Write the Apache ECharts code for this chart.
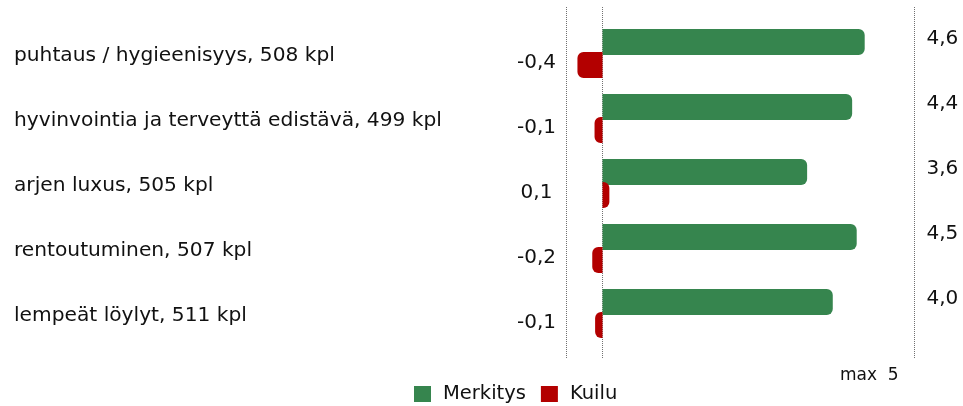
<!DOCTYPE html>
<html>
<head>
<meta charset="utf-8">
<script src="https://cdn.jsdelivr.net/npm/echarts@6/dist/echarts.min.js"></script>
<style>
  html, body { margin: 0; padding: 0; background: #fff; }
  #chart { width: 963px; height: 406px; }
</style>
</head>
<body>
<div id="chart"></div>
<script>
// data
const categories = [
  'puhtaus / hygieenisyys, 508 kpl',
  'hyvinvointia ja terveyttä edistävä, 499 kpl',
  'arjen luxus, 505 kpl',
  'rentoutuminen, 507 kpl',
  'lempeät löylyt, 511 kpl'
]
const merkitys = [4.6, 4.38, 3.59, 4.46, 4.04]
const kuilu = [-0.44, -0.14, 0.12, -0.18, -0.13]
const scaleMin = -0.632
const scaleMax = 5.474
const guideLines = [scaleMin, 0, scaleMax]
const maxLabel = 'max  5'

const font = 'DejaVu Sans'
const textColor = '#111'
const fmt = v => v.toFixed(1).replace('.', ',')

const chart = echarts.init(document.getElementById('chart'))

const hiddenAxis = idx => ({ gridIndex: idx, type: 'value', min: scaleMin, max: scaleMax, show: false })
const catAxis = (idx, extra) => Object.assign({
  gridIndex: idx,
  type: 'category',
  data: categories,
  inverse: true,
  axisLine: { show: false },
  axisTick: { show: false },
  splitLine: { show: false }
}, extra)

chart.setOption({
  animation: false,
  textStyle: { fontFamily: font },
  legend: {
    data: ['Merkitys', 'Kuilu'],
    left: 409,
    top: 379,
    icon: 'rect',
    itemWidth: 17,
    itemHeight: 16,
    itemGap: 15,
    textStyle: { fontSize: 19.5, color: textColor, fontFamily: font, padding: [0, 0, 0, 7] }
  },
  grid: [
    { left: 566.5, width: 348, top: 21, height: 325 },
    { left: 566.5, width: 348, top: 7, height: 351 },
    { left: 566.5, width: 348, top: 21, height: 325 }
  ],
  xAxis: [hiddenAxis(0), hiddenAxis(1), hiddenAxis(2)],
  yAxis: [
    catAxis(0, {
      position: 'left',
      axisLabel: {
        formatter: v => ' \n' + v,
        lineHeight: 4,
        align: 'left', margin: 552.5, fontSize: 20.2, color: textColor, fontFamily: font
      }
    }),
    catAxis(0, {
      position: 'right',
      axisLabel: {
        formatter: (v, i) => fmt(merkitys[i]) + '\n ',
        lineHeight: 29,
        align: 'left', margin: 12, fontSize: 20, color: textColor, fontFamily: font
      }
    }),
    { gridIndex: 1, type: 'value', min: 0, max: 1, show: false },
    catAxis(2, {
      position: 'left',
      axisLabel: {
        formatter: (v, i) => ' \n' + fmt(kuilu[i]),
        lineHeight: 18,
        align: 'center', margin: 30, fontSize: 20, color: textColor, fontFamily: font
      }
    })
  ],
  graphic: [{
    type: 'text',
    left: 840,
    top: 367,
    style: { text: maxLabel, font: '17px "DejaVu Sans"', fill: textColor }
  }],
  series: [
    ...guideLines.map(x => ({
      type: 'line',
      xAxisIndex: 1,
      yAxisIndex: 2,
      data: [[x, 0], [x, 1]],
      symbol: 'none',
      silent: true,
      clip: false,
      z: 1,
      lineStyle: { color: '#707070', width: 1, type: [1, 1] }
    })),
    {
      name: 'Merkitys',
      type: 'bar',
      xAxisIndex: 0,
      yAxisIndex: 0,
      data: merkitys,
      barWidth: 26,
      barGap: '-11.5%',
      z: 3,
      itemStyle: { color: '#36854e', borderRadius: [0, 6, 6, 0] }
    },
    {
      name: 'Kuilu',
      type: 'bar',
      xAxisIndex: 0,
      yAxisIndex: 0,
      data: kuilu.map(v => ({
        value: v,
        itemStyle: { borderRadius: v < 0 ? [6, 0, 0, 6] : [0, 6, 6, 0] }
      })),
      barWidth: 26,
      z: 3,
      itemStyle: { color: '#b30000' }
    }
  ]
})
</script>
</body>
</html>
